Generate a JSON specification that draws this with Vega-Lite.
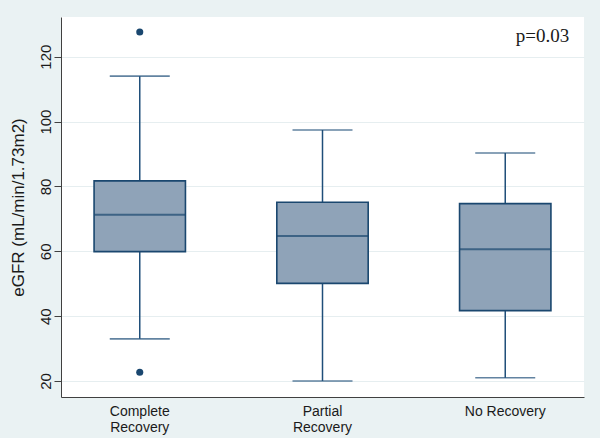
{
  "$schema": "https://vega.github.io/schema/vega-lite/v6.json",
  "autosize": {"type": "none"},
  "padding": {"left": 61, "top": 17, "right": 16, "bottom": 41},
  "width": 523,
  "height": 380,
  "background": "#EAF2F3",
  "datasets": {
    "stats": [
      {"group": "Complete Recovery", "lower": 33.0, "q1": 59.9, "median": 71.3, "q3": 81.7, "upper": 114.0},
      {"group": "Partial Recovery", "lower": 20.0, "q1": 50.1, "median": 64.7, "q3": 75.1, "upper": 97.4},
      {"group": "No Recovery", "lower": 21.0, "q1": 41.7, "median": 60.6, "q3": 74.7, "upper": 90.3}
    ],
    "outliers": [
      {"group": "Complete Recovery", "value": 127.6},
      {"group": "Complete Recovery", "value": 22.7}
    ],
    "note": [
      {"group": "No Recovery", "y": 124.5, "label": "p=0.03"}
    ]
  },
  "encoding": {
    "x": {
      "field": "group",
      "type": "nominal",
      "sort": ["Complete Recovery", "Partial Recovery", "No Recovery"],
      "scale": {"domain": ["Complete Recovery", "Partial Recovery", "No Recovery"], "paddingInner": 0.5, "paddingOuter": 0.181},
      "axis": {
        "title": null,
        "labelAngle": 0,
        "labelExpr": "datum.label == 'No Recovery' ? datum.label : split(datum.label, ' ')",
        "ticks": false,
        "tickSize": 0,
        "labelPadding": 7,
        "labelFontSize": 14,
        "labelFont": "Liberation Sans",
        "labelColor": "#1a1a1a",
        "labelLineHeight": 16.7,
        "labelBaseline": "top",
        "grid": false,
        "domainColor": "#404040",
        "domainWidth": 1
      }
    }
  },
  "layer": [
    {
      "data": {"name": "stats"},
      "mark": {"type": "rule", "color": "#1F4E79", "strokeWidth": 1.5},
      "encoding": {
        "y": {
          "field": "lower",
          "type": "quantitative",
          "scale": {"domain": [15.07, 132.24], "nice": false, "zero": false},
          "axis": {
            "title": "eGFR (mL/min/1.73m2)",
            "titleFont": "Liberation Sans",
            "titleFontSize": 17,
            "titleFontWeight": "normal",
            "titleColor": "#1a1a1a",
            "titlePadding": 11,
            "values": [20, 40, 60, 80, 100, 120],
            "tickSize": 7,
            "tickColor": "#404040",
            "labelAngle": 270,
            "labelAlign": "center",
            "labelBaseline": "bottom",
            "labelPadding": 1,
            "labelFont": "Liberation Sans",
            "labelFontSize": 15,
            "labelColor": "#1a1a1a",
            "grid": true,
            "gridColor": "#E6EEF0",
            "gridWidth": 1,
            "domainColor": "#404040",
            "domainWidth": 1
          }
        },
        "y2": {"field": "upper"}
      }
    },
    {
      "data": {"name": "stats"},
      "mark": {"type": "tick", "color": "#1F4E79", "size": 60, "thickness": 1.6},
      "encoding": {"y": {"field": "lower", "type": "quantitative"}}
    },
    {
      "data": {"name": "stats"},
      "mark": {"type": "tick", "color": "#1F4E79", "size": 60, "thickness": 1.6},
      "encoding": {"y": {"field": "upper", "type": "quantitative"}}
    },
    {
      "data": {"name": "stats"},
      "mark": {"type": "bar", "fill": "#8FA3B8", "stroke": "#1A476F", "strokeWidth": 1.6, "opacity": 1},
      "encoding": {
        "y": {"field": "q1", "type": "quantitative"},
        "y2": {"field": "q3"}
      }
    },
    {
      "data": {"name": "stats"},
      "mark": {"type": "tick", "color": "#1A476F", "size": 91, "thickness": 2},
      "encoding": {"y": {"field": "median", "type": "quantitative"}}
    },
    {
      "data": {"name": "outliers"},
      "mark": {"type": "point", "filled": true, "color": "#1A476F", "size": 50, "opacity": 1},
      "encoding": {"y": {"field": "value", "type": "quantitative"}}
    },
    {
      "data": {"name": "note"},
      "mark": {"type": "text", "font": "Liberation Serif", "fontSize": 19, "align": "right", "baseline": "alphabetic", "dx": 64, "color": "#1a1a1a"},
      "encoding": {
        "y": {"field": "y", "type": "quantitative"},
        "text": {"field": "label"}
      }
    }
  ],
  "config": {
    "view": {"fill": "white", "stroke": null}
  }
}
